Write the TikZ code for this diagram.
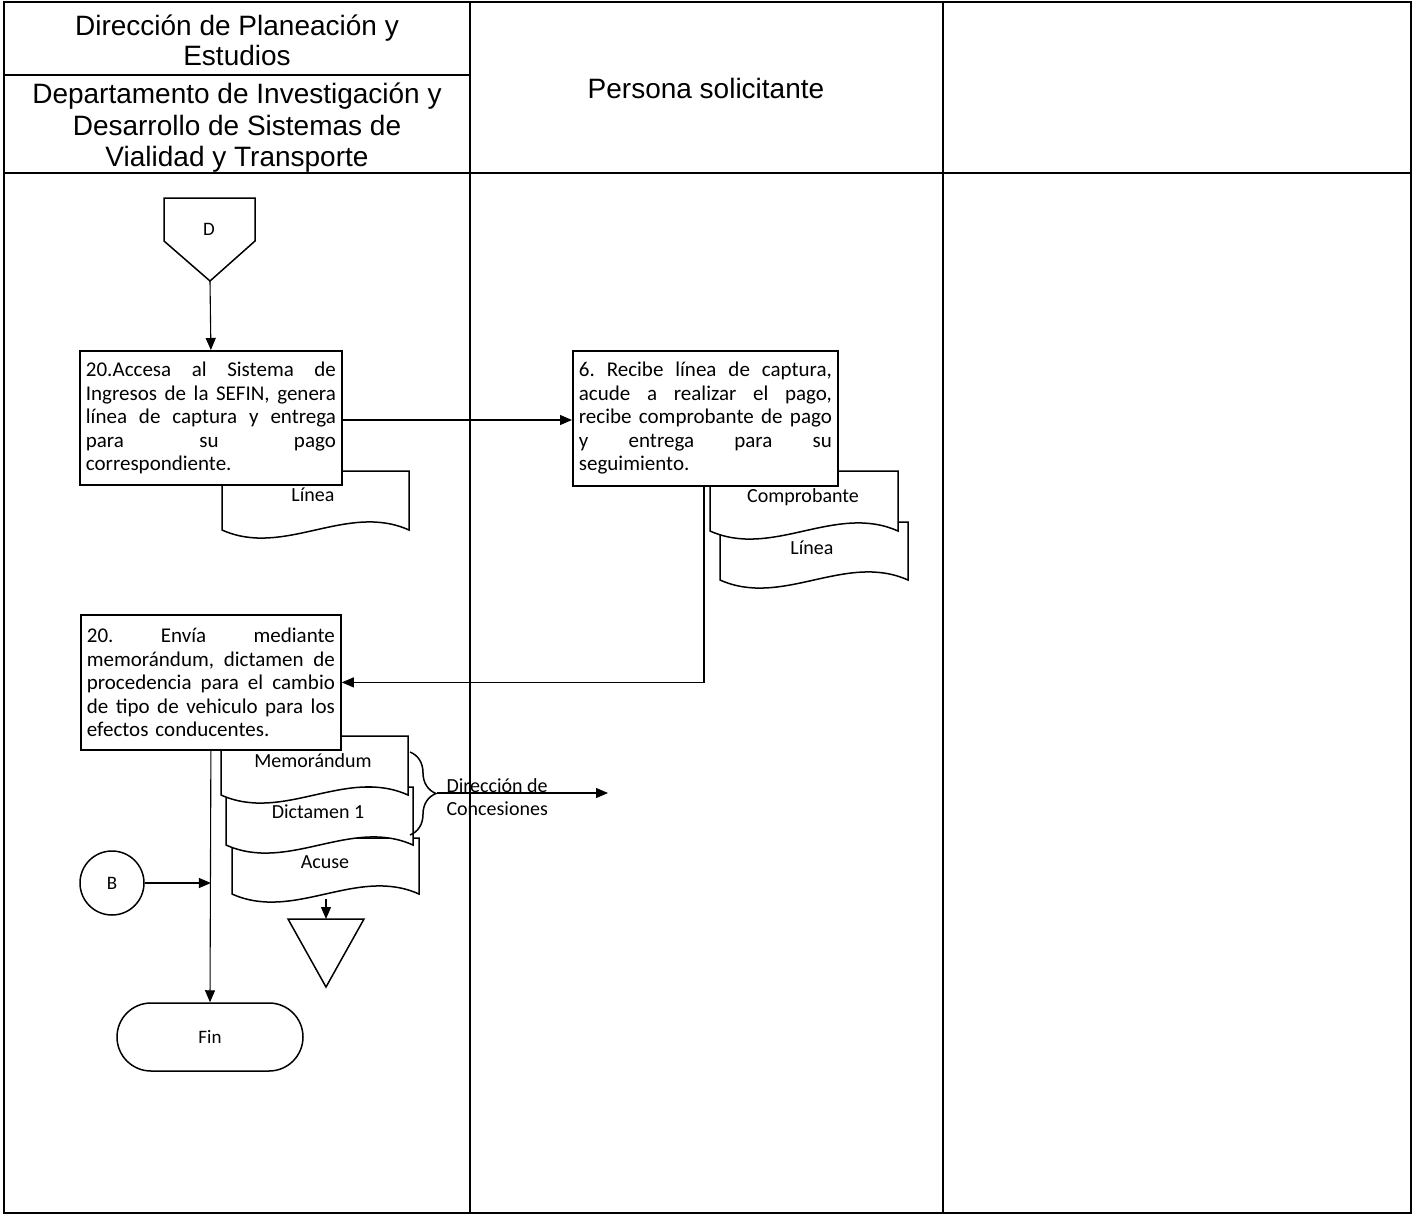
\documentclass[tikz,border=0pt]{standalone}
\usepackage{fontspec}
\setmainfont{Liberation Sans}
\newfontfamily\calfont{Carlito}
\usetikzlibrary{arrows.meta,decorations.pathreplacing,calc}

\tikzset{
  lane/.style={line width=1.4pt},
  laneheavy/.style={line width=2.8pt},
  procbox/.style={draw, line width=1.8pt, fill=white, inner xsep=6pt, inner ysep=0pt,
    font=\calfont\fontsize{21}{23.5}\selectfont, align=left},
  docshape/.style={draw, line width=1.5pt, fill=white},
  doclabel/.style={font=\calfont\fontsize{20}{23}\selectfont},
  conn/.style={line width=1.1pt},
  arr/.style={conn, -{Triangle[length=12pt,width=10pt]}},
  head/.style={font=\fontsize{28}{30}\selectfont, align=center},
  termshape/.style={draw, line width=1.5pt, fill=white, font=\calfont\fontsize{19}{22}\selectfont},
}
\newlength\jw
\newcommand\jl[1]{\makebox[\jw][s]{#1}\\}
\newcommand\docpath[4]{%
  \pgfmathsetmacro\dw{(#2-#1)/3}%
  \draw[docshape] (#1,#3) -- (#2,#3) -- (#2,#4) .. controls ({#2-\dw},{#4-28}) and ({#1+\dw},{#4+28}) .. (#1,#4) -- cycle;}

\begin{document}
\begin{tikzpicture}[x=1pt,y=-1pt]
\useasboundingbox (0,0) rectangle (1416,1215);
\fill[white] (0,0) rectangle (1416,1215);

% swimlane frame
\draw[lane] (4,2) rectangle (1411,1213);
\draw[laneheavy] (4,2) -- (1411,2);
\draw[laneheavy] (4,173) -- (1411,173);
\draw[line width=2pt] (4,75) -- (470,75);
\draw[lane] (470,2) -- (470,1213);
\draw[lane] (943,2) -- (943,1213);

% headers
\node[head] (h1) at (237,40) {Dirección de Planeación y\\Estudios};
\node[head, font=\fontsize{28}{31.5}\selectfont] (h2) at (237,128) {Departamento de Investigación y\\Desarrollo de Sistemas de\\Vialidad y Transporte};
\node[head] (h3) at (706,88) {Persona solicitante};

% off-page connector D
\draw[docshape] (164,198) -- (255,198) -- (255,241) -- (210,281) -- (164,241) -- cycle;
\node[termshape, draw=none, fill=none] (dlbl) at (209,229) {D};
\coordinate (dtip) at (210,281);

% documents (behind boxes)
\docpath{222}{409}{471}{530}
\node[doclabel] (l1) at (313,495) {Línea};

\docpath{720}{908}{522}{580}
\node[doclabel] (l2) at (812,548) {Línea};
\docpath{710}{898}{471}{531}
\node[doclabel] (cp) at (803,497) {Comprobante};

\docpath{232}{419}{838}{894}
\node[doclabel] (ac) at (325,862) {Acuse};
\docpath{226}{413}{787}{845}
\node[doclabel] (dc) at (318,812) {Dictamen 1};
\docpath{221}{408}{736}{795}
\node[doclabel] (mm) at (313,761) {Memorándum};

% process boxes
\setlength\jw{250pt}
\node[procbox, text width=250pt, minimum height=134pt, anchor=north west] (b20a) at (79,350) {%
\jl{20.Accesa\hfill al\hfill Sistema\hfill de}
\jl{Ingresos\hfill de\hfill la\hfill SEFIN,\hfill genera}
\jl{línea\hfill de\hfill captura\hfill y\hfill entrega}
\jl{para\hfill su\hfill pago}
correspondiente.};

\setlength\jw{253pt}
\node[procbox, text width=253pt, minimum height=135pt, anchor=north west] (b6) at (572,350) {%
\jl{6.\hfill Recibe\hfill línea\hfill de\hfill captura,}
\jl{acude\hfill a\hfill realizar\hfill el\hfill pago,}
\jl{recibe\hfill comprobante\hfill de\hfill pago}
\jl{y\hfill entrega\hfill para\hfill su}
seguimiento.};

\setlength\jw{248pt}
\node[procbox, text width=248pt, minimum height=135pt, anchor=north west] (b20b) at (80,614) {%
\jl{20.\hfill Envía\hfill mediante}
\jl{memorándum,\hfill dictamen\hfill de}
\jl{procedencia\hfill para\hfill el\hfill cambio}
\jl{de\hfill tipo\hfill de\hfill vehiculo\hfill para\hfill los}
efectos conducentes.};

% connector B and end
\node[termshape, circle, minimum size=64pt, inner sep=0pt] (B) at (112,883) {B};
\node[termshape, rounded corners=34pt, minimum width=186pt, minimum height=68pt] (fin) at (210,1037) {Fin};

% archive triangle
\draw[docshape] (288,919) -- (364,919) -- (326,987) -- cycle;
\coordinate (tritop) at (326,919);
\coordinate (acbot) at (326,899);

% brace and destination
\draw[line width=1.5pt, decorate, decoration={brace, amplitude=26pt}] (410,752) -- (410,835);
\coordinate (btip) at (437,793);
\coordinate (dcend) at (608,793);
\node[doclabel, align=left, anchor=west] (dest) at (443,797) {Dirección de\\Concesiones};

% connectors
\draw[arr] (dtip) -- (b20a.north);
\draw[arr] (b20a.east |- 0,420) -- (b6.west |- 0,420);
\coordinate (c1) at (704,485);
\draw[arr] (b6.south -| c1) |- (b20b.east);
\draw[arr] (b20b.south) -- (fin.north);
\draw[arr] (B.east) -- (B.east -| b20b.south);
\draw[arr] (acbot) -- (tritop);
\draw[arr] (btip) -- (dcend);
\end{tikzpicture}
\end{document}
